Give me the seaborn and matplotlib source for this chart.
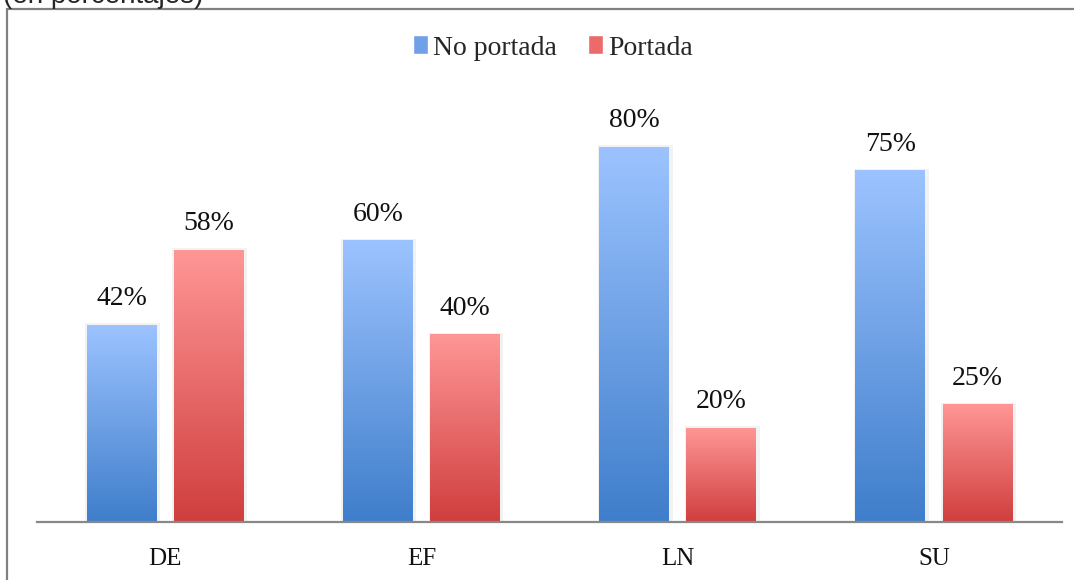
import numpy as np
import pandas as pd
import seaborn as sns
import matplotlib.pyplot as plt
from matplotlib.patches import Rectangle
from matplotlib.colors import LinearSegmentedColormap

# Datos
categorias = ["DE", "EF", "LN", "SU"]
no_portada = [42, 60, 80, 75]
portada = [58, 40, 20, 25]
series = ["No portada", "Portada"]

df = pd.DataFrame({
    "cat": categorias * 2,
    "valor": no_portada + portada,
    "serie": [series[0]] * 4 + [series[1]] * 4,
})

# Degradados (arriba claro -> abajo oscuro)
grad = {
    "No portada": ("#9CC3FF", "#3F7ECB"),
    "Portada": ("#FF9696", "#D03E3E"),
}

W, H = 1074, 580
fig = plt.figure(figsize=(W / 100, H / 100), dpi=100)
sns.set_style("white")
plt.rcParams["font.family"] = ["Liberation Serif", "DejaVu Serif"]

ax = fig.add_axes([37 / W, 58 / H, (1062 - 37) / W, 468.75 / H])
sns.barplot(data=df, x="cat", y="valor", hue="serie", hue_order=series,
            order=categorias, width=0.68, gap=0.2, ax=ax, legend=False,
            palette=[grad[s][1] for s in series])

# Reemplazar cada barra con un degradado vertical
for cont, s in zip(ax.containers, series):
    cmap = LinearSegmentedColormap.from_list(s, [grad[s][1], grad[s][0]])
    for p in cont.patches:
        x0, y0 = p.get_x(), p.get_y()
        w, h = p.get_width(), p.get_height()
        p.set_alpha(0)
        # sombra sutil
        ax.add_patch(Rectangle((x0 - 0.006, y0), w + 0.02, h + 0.4,
                               facecolor="#000000", alpha=0.05, zorder=1.5,
                               linewidth=0))
        ax.imshow(np.linspace(0, 1, 256).reshape(-1, 1), cmap=cmap,
                  extent=[x0, x0 + w, y0, y0 + h], origin="lower",
                  aspect="auto", zorder=2)
    ax.bar_label(cont, labels=[f"{v:g}%" for v in cont.datavalues],
                 padding=10, fontsize=20, color="#111111")

ax.set_xlim(-0.5, 3.5)
ax.set_ylim(0, 100)
ax.set_xlabel("")
ax.set_ylabel("")
ax.set_yticks([])
ax.tick_params(axis="x", length=0, pad=19, labelsize=18, labelcolor="#111111")
for side in ["top", "left", "right"]:
    ax.spines[side].set_visible(False)
ax.spines["bottom"].set_color("#888888")
ax.spines["bottom"].set_linewidth(1.6)

# Leyenda
handles = [Rectangle((0, 0), 1, 1, facecolor="#6FA0E8"),
           Rectangle((0, 0), 1, 1, facecolor="#EC6A6A")]
fig.legend(handles, series, loc="center", bbox_to_anchor=(553 / W, 1 - 48 / H),
           ncol=2, frameon=False, fontsize=20, handlelength=0.55,
           handleheight=0.65, handletextpad=0.2, columnspacing=1.1)

# Marco exterior
fig.patches.append(Rectangle((7 / W, -0.05), 1.05, 1 - 9 / H + 0.05,
                             transform=fig.transFigure, fill=False,
                             edgecolor="#808080", linewidth=1.6))

# Texto cortado arriba (como en el original)
fig.text(3 / W, 1 - 3 / H, "(en porcentajes)", fontsize=20,
         family=["Liberation Sans", "DejaVu Sans"], va="baseline", ha="left")

fig.savefig("out.png", dpi=100)
